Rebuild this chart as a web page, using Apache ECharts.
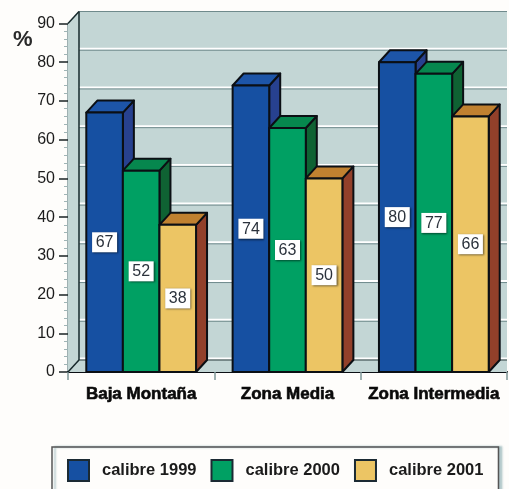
<!DOCTYPE html>
<html>
<head>
<meta charset="utf-8">
<style>html,body{margin:0;padding:0;background:#fefdfb;overflow:hidden}#chart{width:509px;height:489px}</style>
<script src="https://cdn.jsdelivr.net/npm/echarts@6/dist/echarts.min.js"></script>
</head>
<body>
<div id="chart"></div>
<script>
// Percentages by zone and harvest year
const zones = ['Baja Montaña', 'Zona Media', 'Zona Intermedia'];
const calibre1999 = [67, 74, 80];
const calibre2000 = [52, 63, 77];
const calibre2001 = [38, 50, 66];
const valueTicks = [0, 10, 20, 30, 40, 50, 60, 70, 80, 90];

// Pseudo-3D depth of the box, in pixels
const DEPTH_X = 11, DEPTH_Y = -12;
const FONT = '"Liberation Sans", Arial, sans-serif';
const EDGE = '#0b0f14';

const palettes = [
  { front: '#1650a2', top: '#1d55a8', side: '#27418f' },
  { front: '#00a063', top: '#06874e', side: '#0f6233' },
  { front: '#ecc564', top: '#c08130', side: '#92402a' }
];

// Back wall, left wall and floor, placed through the value scale
function renderWalls(params, api) {
  const cs = params.coordSys;
  const left = cs.x, right = cs.x + cs.width;
  const y0 = api.coord([0, 0])[1];
  const yMax = api.coord([0, 90])[1];
  const wall = '#c3d6d5';
  const children = [
    { type: 'rect', shape: { x: left + DEPTH_X, y: yMax + DEPTH_Y, width: right - left - DEPTH_X, height: y0 - yMax },
      style: { fill: wall } },
    { type: 'polygon', shape: { points: [[left, y0], [left, yMax], [left + DEPTH_X, yMax + DEPTH_Y], [left + DEPTH_X, y0 + DEPTH_Y]] },
      style: { fill: wall } },
    { type: 'polygon', shape: { points: [[left, y0], [left + DEPTH_X, y0 + DEPTH_Y], [right, y0 + DEPTH_Y], [right, y0]] },
      style: { fill: wall } }
  ];
  valueTicks.forEach(function (t) {
    const y = api.coord([0, t])[1] + DEPTH_Y;
    if (t !== 90) {
      children.push({ type: 'line', shape: { x1: left + DEPTH_X, y1: y - 1.5, x2: right, y2: y - 1.5 },
        style: { stroke: '#ffffff', lineWidth: 2 } });
    }
    children.push({ type: 'line', shape: { x1: left + DEPTH_X, y1: y, x2: right, y2: y },
      style: { stroke: t === 0 ? '#2b3a3c' : '#6f8a8c', lineWidth: 1 } });
  });
  children.push(
    { type: 'line', shape: { x1: left + DEPTH_X, y1: yMax + DEPTH_Y, x2: left + DEPTH_X, y2: y0 + DEPTH_Y },
      style: { stroke: '#16282b', lineWidth: 1.5 } },
    { type: 'line', shape: { x1: left, y1: yMax, x2: left + DEPTH_X, y2: yMax + DEPTH_Y },
      style: { stroke: '#16282b', lineWidth: 1.5 } },
    { type: 'line', shape: { x1: left, y1: y0, x2: left + DEPTH_X, y2: y0 + DEPTH_Y },
      style: { stroke: '#16282b', lineWidth: 1.5 } }
  );
  return { type: 'group', children: children };
}

// One box: front, top and side faces plus a value tag at half height
function makeBarRenderer(seriesPos) {
  return function (params, api) {
    const idx = api.value(0), val = api.value(1);
    const base = api.coord([idx, 0]);
    const topPt = api.coord([idx, val]);
    const band = api.size([1, 0])[0];
    const w = band * 0.25;
    const x = base[0] + (seriesPos - 1.5) * w;
    const yb = base[1], yt = topPt[1];
    const p = palettes[seriesPos];
    const edge = { stroke: EDGE, lineWidth: 2, lineJoin: 'round' };
    const midY = (yb + yt) / 2;
    const cx = x + w / 2;
    return {
      type: 'group',
      children: [
        { type: 'polygon', shape: { points: [[x + w, yb], [x + w + DEPTH_X, yb + DEPTH_Y], [x + w + DEPTH_X, yt + DEPTH_Y], [x + w, yt]] },
          style: Object.assign({ fill: p.side }, edge) },
        { type: 'polygon', shape: { points: [[x, yt], [x + DEPTH_X, yt + DEPTH_Y], [x + w + DEPTH_X, yt + DEPTH_Y], [x + w, yt]] },
          style: Object.assign({ fill: p.top }, edge) },
        { type: 'rect', shape: { x: x, y: yt, width: w, height: yb - yt },
          style: Object.assign({ fill: p.front }, edge) },
        { type: 'rect', shape: { x: cx - 12.5, y: midY - 10, width: 25, height: 20 },
          style: { fill: '#ffffff', shadowColor: 'rgba(0,0,0,0.55)', shadowBlur: 2, shadowOffsetX: 1, shadowOffsetY: 1 } },
        { type: 'text', style: { x: cx, y: midY + 0.5, text: String(val), align: 'center', verticalAlign: 'middle',
          fill: '#2b323c', font: '16px ' + FONT } }
      ]
    };
  };
}

function pairs(values) {
  return values.map(function (v, i) { return [i, v]; });
}

const barSeries = [['calibre 1999', calibre1999], ['calibre 2000', calibre2000], ['calibre 2001', calibre2001]]
  .map(function (entry, i) {
    return {
      name: entry[0], type: 'custom', z: 3 + i, clip: false,
      renderItem: makeBarRenderer(i),
      encode: { x: 0, y: 1 },
      itemStyle: { color: palettes[i].front, borderColor: '#1b2a33', borderWidth: 1.5 },
      data: pairs(entry[1])
    };
  });

const chart = echarts.init(document.getElementById('chart'), null, { renderer: 'canvas' });
chart.setOption({
  animation: false,
  backgroundColor: '#fefdfb',
  title: { text: '%', left: 8, top: 24, textStyle: { fontFamily: FONT, fontSize: 22, fontWeight: 'bold', color: '#2a2a2a' } },
  grid: { left: 68, top: 23.5, width: 439, height: 348.5 },
  legend: {
    left: 52, top: 447, orient: 'horizontal',
    data: ['calibre 1999', 'calibre 2000', 'calibre 2001'],
    icon: 'rect', itemWidth: 21, itemHeight: 21, itemGap: 14,
    padding: [12, 15, 12, 15],
    backgroundColor: '#fefdfb', borderColor: '#555', borderWidth: 1.5,
    shadowColor: 'rgba(120,160,165,0.6)', shadowBlur: 2, shadowOffsetX: 3, shadowOffsetY: 0,
    textStyle: { fontFamily: FONT, fontSize: 16.5, fontWeight: 'bold', color: '#1b1b1b', padding: [0, 0, 0, 8] }
  },
  xAxis: {
    type: 'category', data: zones, boundaryGap: true,
    axisLine: { show: true, lineStyle: { color: '#0b0f14', width: 2 } },
    axisTick: { show: true, alignWithLabel: false, length: 8, lineStyle: { color: '#7f9698', width: 1.5 } },
    axisLabel: { interval: 0, margin: 14, color: '#0a0a0a', fontFamily: FONT, fontSize: 17, fontWeight: 'bold',
      textBorderColor: '#0a0a0a', textBorderWidth: 0.6 }
  },
  yAxis: {
    type: 'value', min: 0, max: 90, interval: 10,
    axisLine: { show: true, lineStyle: { color: '#7f9698', width: 1.5 } },
    axisTick: { show: true, length: 9, lineStyle: { color: '#1a2224', width: 1.5 } },
    minorTick: { show: true, splitNumber: 5, length: 4, lineStyle: { color: '#9fb4b5', width: 1 } },
    splitLine: { show: false },
    axisLabel: { margin: 13, color: '#1c1c1c', fontFamily: FONT, fontSize: 16 }
  },
  series: [{
    name: 'walls', type: 'custom', z: 1, clip: false, silent: true,
    renderItem: renderWalls, encode: { x: 0, y: 1 }, data: [[0, 0]]
  }].concat(barSeries)
});
</script>
</body>
</html>
